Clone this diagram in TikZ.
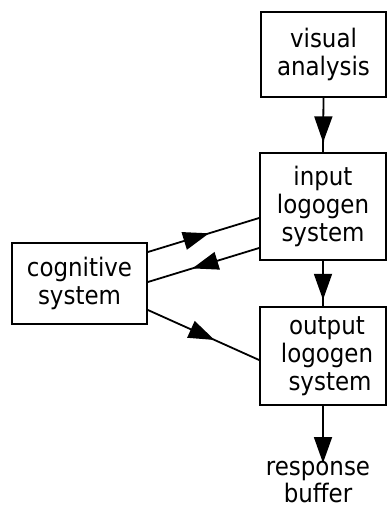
\documentclass[tikz,border=0pt]{standalone}
\usepackage{fontspec}
\setmainfont{DejaVu Sans Condensed}
\usetikzlibrary{arrows.meta,decorations.markings}
\tikzset{
  box/.style={draw, line width=1.8pt, align=center, inner sep=0pt,
    font=\fontsize{25.5}{28}\selectfont},
  lbl/.style={align=center, inner sep=0pt, font=\fontsize{25.5}{27}\selectfont},
  tipstyle/.tip={Triangle[length=26pt,width=18pt]},
  conn/.style={line width=1.8pt},
  midarrow/.style={conn, decoration={markings, mark=at position #1 with {\arrow{tipstyle}}}, postaction={decorate}},
}
\begin{document}
\begin{tikzpicture}[x=1pt,y=-1pt]
\useasboundingbox (0,0) rectangle (387,509);
\node[box, minimum width=125pt, minimum height=85pt] (vis) at (323.5,54.5) {visual\\analysis};
\node[box, minimum width=126pt, minimum height=107pt] (inp) at (323,206.5) {input\\logogen\\system};
\node[box, minimum width=126pt, minimum height=98pt] (out) at (323,356) {\hspace*{8pt}output\\\hspace*{8pt}logogen\\\hspace*{14pt}system};
\node[box, minimum width=135pt, minimum height=81pt] (cog) at (79.5,283.5) {cognitive\\system};
\node[lbl] (resp) at (318,482) {response\\buffer};
\coordinate (resptop) at (323,463);
\draw[midarrow=0.82] (vis.south) -- (inp.north);
\draw[midarrow=0.86] (inp.south) -- (out.north);
\draw[conn, -{tipstyle}] (out.south) -- (resptop);
\draw[midarrow=0.55] (cog.east |- {(0,252)}) -- (inp.west |- {(0,218)});
\draw[midarrow=0.6] (inp.west |- {(0,248)}) -- (cog.east |- {(0,282)});
\draw[midarrow=0.6] (cog.east |- {(0,310)}) -- (out.west |- {(0,360)});
\end{tikzpicture}
\end{document}
